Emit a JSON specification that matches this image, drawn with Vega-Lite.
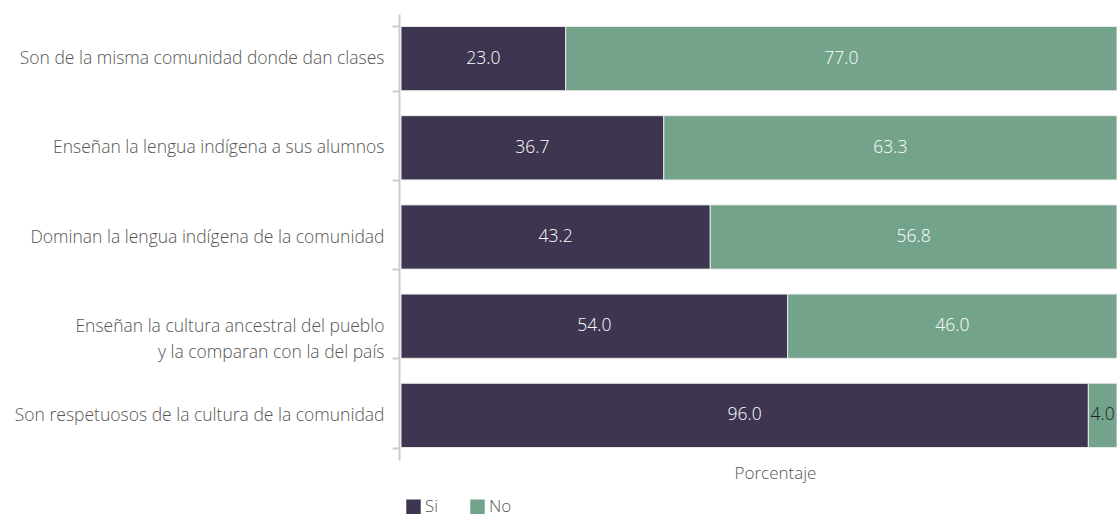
{
  "$schema": "https://vega.github.io/schema/vega-lite/v6.json",
  "autosize": {"type": "none"},
  "width": 716,
  "height": 446,
  "padding": {"left": 401, "top": 14, "right": 0, "bottom": 56},
  "config": {"font": "Open Sans", "view": {"stroke": null}},
  "data": {
    "values": [
      {"item": "Son de la misma comunidad donde dan clases", "respuesta": "Si", "valor": 23.0},
      {"item": "Son de la misma comunidad donde dan clases", "respuesta": "No", "valor": 77.0},
      {"item": "Enseñan la lengua indígena a sus alumnos", "respuesta": "Si", "valor": 36.7},
      {"item": "Enseñan la lengua indígena a sus alumnos", "respuesta": "No", "valor": 63.3},
      {"item": "Dominan la lengua indígena de la comunidad", "respuesta": "Si", "valor": 43.2},
      {"item": "Dominan la lengua indígena de la comunidad", "respuesta": "No", "valor": 56.8},
      {"item": "Enseñan la cultura ancestral del pueblo|y la comparan con la del país", "respuesta": "Si", "valor": 54.0},
      {"item": "Enseñan la cultura ancestral del pueblo|y la comparan con la del país", "respuesta": "No", "valor": 46.0},
      {"item": "Son respetuosos de la cultura de la comunidad", "respuesta": "Si", "valor": 96.0},
      {"item": "Son respetuosos de la cultura de la comunidad", "respuesta": "No", "valor": 4.0}
    ]
  },
  "encoding": {
    "y": {
      "field": "item", "type": "nominal", "sort": null, "title": null,
      "scale": {"paddingInner": 0.28, "paddingOuter": 0.14},
      "axis": {
        "offset": 2, "domainColor": "#cccccc", "domainWidth": 2,
        "tickColor": "#cccccc", "tickWidth": 2, "tickSize": 7, "tickBand": "extent",
        "labelFontSize": 17.5, "labelColor": "#555555", "labelPadding": 8,
        "labelLimit": 500, "labelFontWeight": 300,
        "labelExpr": "split(datum.label, '|')", "labelLineHeight": 26
      }
    },
    "x": {
      "field": "valor", "type": "quantitative", "stack": "zero",
      "scale": {"domain": [0, 100], "nice": false},
      "axis": {"labels": false, "ticks": false, "domain": false, "grid": false,
        "title": "Porcentaje", "titleFontSize": 17, "titleFontWeight": 300,
        "titleColor": "#555555", "titlePadding": 5, "titleX": 374}
    },
    "order": {"field": "respuesta", "sort": "descending"}
  },
  "layer": [
    {
      "mark": {"type": "bar", "stroke": "#e8e8e8", "strokeWidth": 1},
      "encoding": {
        "color": {
          "field": "respuesta", "type": "nominal", "title": null,
          "scale": {"domain": ["Si", "No"], "range": ["#3e3650", "#74a38b"]},
          "legend": {
            "orient": "none", "legendX": 4, "legendY": 484, "direction": "horizontal",
            "symbolType": "square", "symbolSize": 210, "symbolStrokeWidth": 0,
            "labelFontSize": 17, "labelFontWeight": 300, "labelColor": "#555555",
            "columnPadding": 30, "labelOffset": 3
          }
        }
      }
    },
    {
      "mark": {"type": "text", "fontSize": 17.5, "fontWeight": 300, "align": "center", "baseline": "middle"},
      "encoding": {
        "x": {"field": "valor", "type": "quantitative", "stack": "zero", "bandPosition": 0.5},
        "text": {"field": "valor", "type": "quantitative", "format": ".1f"},
        "color": {"condition": {"test": "datum.valor < 10", "value": "#222222"}, "value": "#ffffff"}
      }
    }
  ]
}
